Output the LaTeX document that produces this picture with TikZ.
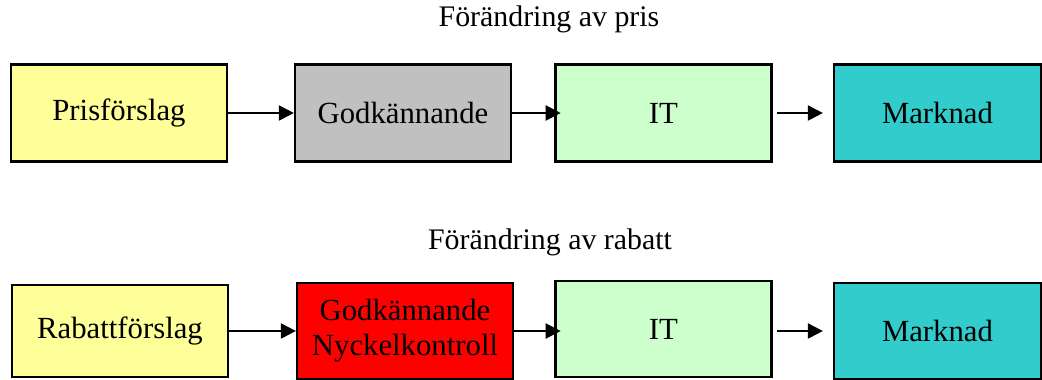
\documentclass[tikz,border=0pt]{standalone}
\usepackage{fontspec}
\setmainfont{Liberation Serif}
\usetikzlibrary{arrows.meta}
\definecolor{propyellow}{HTML}{FFFF99}
\definecolor{okgray}{HTML}{C0C0C0}
\definecolor{itgreen}{HTML}{CCFFCC}
\definecolor{mktcyan}{HTML}{33CCCC}
\definecolor{keyred}{HTML}{FF0000}
\tikzset{
stagebox/.style={draw, line width=1.3pt, minimum width=4.32cm, minimum height=1.94cm,
  inner sep=0pt, align=center, font=\fontsize{17.5}{20}\selectfont},
flow/.style={line width=1.2pt, -{Triangle[length=0.3cm, width=0.3cm]}},
heading/.style={font=\fontsize{17}{20}\selectfont}
}
\begin{document}
\begin{tikzpicture}[x=0.02cm, y=-0.02cm]
\useasboundingbox (0,0) rectangle (1042,379);
% pris
\node[heading] (t1) at (549,19) {Förändring av pris};
\node[stagebox, fill=propyellow] (p1) at (119,113) {Prisförslag};
\node[stagebox, fill=okgray] (g1) at (403,113) {Godkännande};
\node[stagebox, fill=itgreen] (i1) at (663.5,113) {IT};
\node[stagebox, fill=mktcyan, minimum width=4.14cm] (m1) at (937.5,113) {Marknad};
\draw[flow] (p1) -- (g1);
\draw[flow, shorten >=-3\pgflinewidth] (g1) -- (i1);
\draw[flow, shorten <=4*0.02cm, shorten >=10*0.02cm] (i1) -- (m1);
% rabatt
\node[heading, font=\fontsize{17}{20}\selectfont] (t2) at (550,242) {Förändring av rabatt};
\node[stagebox, fill=propyellow, minimum height=1.84cm] (p2) at (120,331) {Rabattförslag};
\node[stagebox, fill=keyred, minimum height=1.92cm] (g2) at (405,331) {Godkännande\\Nyckelkontroll};
\node[stagebox, fill=itgreen, minimum height=1.92cm] (i2) at (663.5,329) {IT};
\node[stagebox, fill=mktcyan, minimum width=4.14cm, minimum height=1.92cm] (m2) at (937.5,331) {Marknad};
\draw[flow] (p2) -- (g2);
\draw[flow, shorten >=-3\pgflinewidth] (g2.east) -- (g2.east -| i2.west);
\draw[flow, shorten <=4*0.02cm, shorten >=10*0.02cm] (i2.east |- m2.west) -- (m2.west);
\end{tikzpicture}
\end{document}
